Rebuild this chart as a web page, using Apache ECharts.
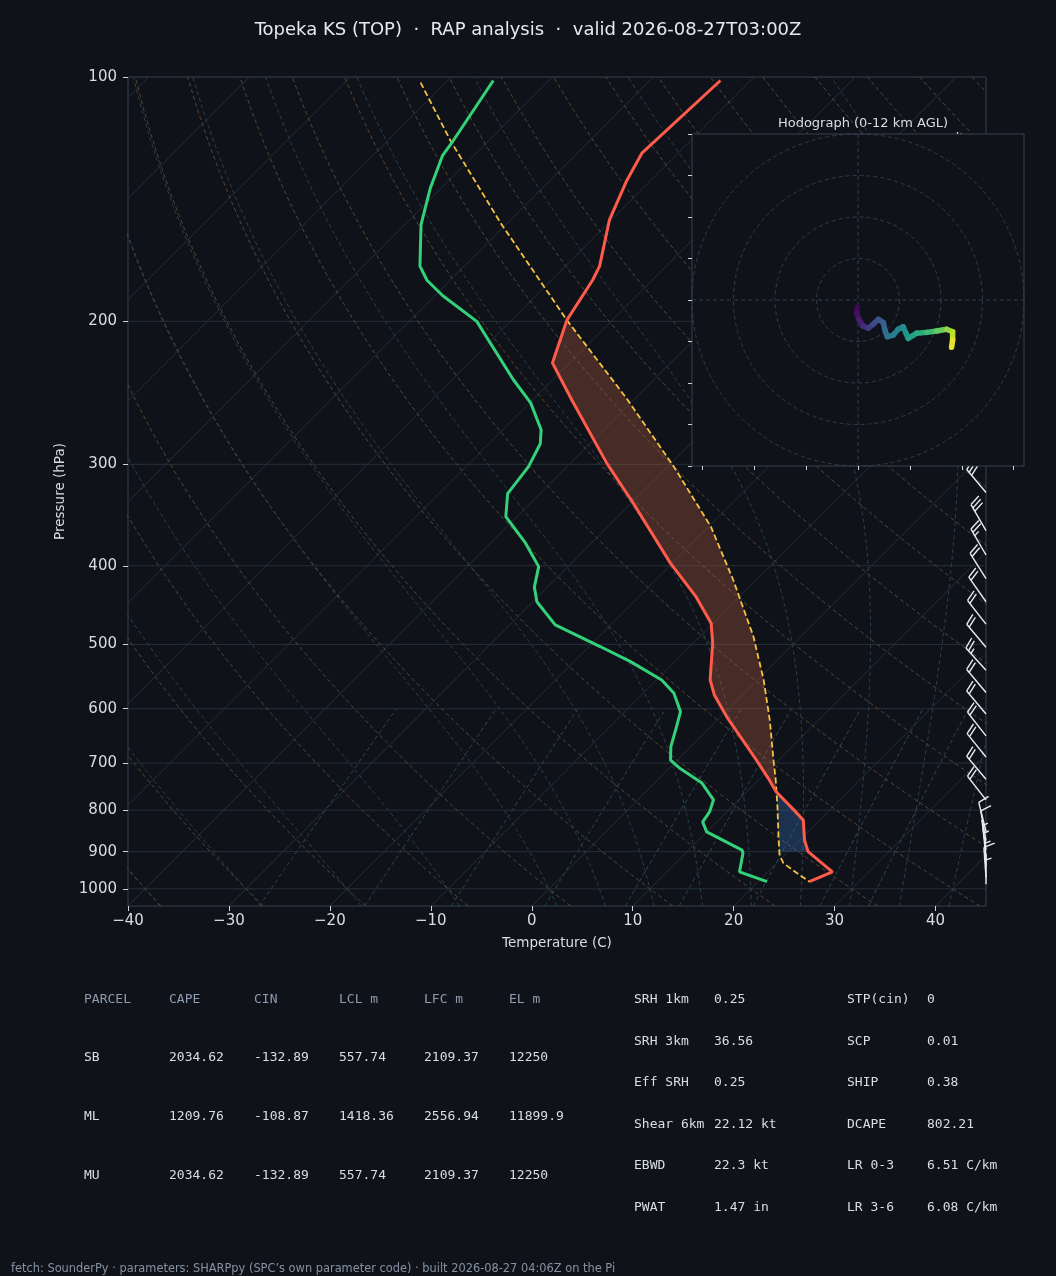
<!DOCTYPE html>
<html>
<head>
<meta charset="utf-8">
<script src="https://cdn.jsdelivr.net/npm/echarts@6/dist/echarts.min.js"></script>
<style>
html, body { margin: 0; padding: 0; background: #0f1319; }
#chart { width: 1056px; height: 1276px; }
</style>
</head>
<body>
<div id="chart"></div>
<script>
// ---- sounding (hPa / deg C) ----
var tempP = [101, 124, 134, 150, 171, 178, 199.3, 225, 250, 299, 335, 397, 437, 471, 498, 553, 577, 614, 694, 731, 759.3, 800, 823, 871, 900, 953, 980];
var tempC = [-63.0, -63.6, -62.4, -60.2, -56.6, -55.9, -54.5, -51.7, -46.1, -36.4, -29.8, -20.2, -14.3, -10.2, -8.1, -4.7, -2.8, 0.6, 7.8, 10.8, 12.9, 16.5, 18.4, 20.5, 22.0, 26.4, 25.1];

var dewP = [101, 120, 125, 137, 152, 171, 178, 186, 200, 212, 236, 252, 272, 283, 302, 326, 348, 374, 401, 425, 443, 473, 503, 525, 553, 574, 605, 634, 668, 694, 711, 741, 777, 804, 827, 851, 896, 904, 953, 980];
var dewC = [-85.5, -83.5, -83.1, -81.1, -78.4, -74.4, -72.3, -69.2, -63.3, -60.0, -53.9, -49.9, -46.2, -44.9, -43.8, -43.2, -41.1, -36.7, -32.9, -31.3, -29.6, -25.5, -18.9, -14.4, -9.5, -7.0, -4.5, -3.3, -2.0, -0.7, 1.1, 4.7, 7.5, 8.3, 8.6, 10.0, 15.3, 15.7, 17.2, 20.9];

var parcelP = [101.6, 120, 151.5, 199.3, 249, 302, 358, 416.5, 489, 553, 620, 694, 734.5, 792, 863, 908.6, 930, 962, 980];
var parcelC = [-92.5, -83.7, -70.6, -54.5, -40.8, -29.4, -19.8, -12.3, -4.7, 0.6, 5.2, 9.5, 11.7, 14.5, 17.6, 19.5, 20.7, 23.5, 25.1];

// shaded layers (hPa)
var elP = 199.3, lfcP = 759.3, cinBaseP = 900;

// wind barbs
var barbP = [987, 968, 941, 915, 895, 872, 850, 777, 733, 688, 648, 609, 573, 538, 504, 472, 443, 415, 388, 362, 325, 290, 262, 236, 212, 190, 170, 152, 137, 124];
var barbKt = [5, 10, 5, 5, 5, 10, 10, 20, 20, 20, 20, 20, 20, 25, 20, 20, 20, 20, 25, 30, 30, 30, 35, 35, 40, 40, 40, 45, 45, 45];
var barbDir = [0, 356, 358, 354, 352, 350, 346, 322, 320, 321, 322, 320, 320, 318, 320, 322, 325, 328, 330, 330, 320, 315, 310, 305, 300, 298, 295, 292, 290, 288];

// hodograph (kt) and height (km AGL)
var hodoU = [-0.3, -0.6, 0.6, 2.3, 5.0, 7.4, 9.8, 12.2, 13.0, 14.1, 17.0, 19.4, 21.8, 23.1, 24.2, 28.3, 33.1, 37.9, 42.7, 45.6, 45.6, 45.1];
var hodoV = [-3.5, -6.4, -9.6, -12.5, -13.6, -11.6, -9.3, -10.9, -14.5, -17.7, -16.9, -14.1, -12.9, -16.0, -18.5, -16.0, -15.6, -14.9, -14.1, -15.3, -19.3, -22.8];
var hodoZ = [0, 0.4, 0.8, 1.2, 1.8, 2.4, 3.0, 3.5, 3.9, 4.4, 4.9, 5.3, 5.7, 6.1, 6.5, 7.0, 7.8, 8.7, 9.6, 10.4, 11.2, 12.0];
var hodoRings = [20, 40, 60, 80];

// ticks
var pressureTicks = [100, 200, 300, 400, 500, 600, 700, 800, 900, 1000];
var tempTicks = [-40, -30, -20, -10, 0, 10, 20, 30, 40];
var hodoTicksX = [-75, -50, -25, 0, 25, 50, 75];
var mixRatios = [0.0004, 0.001, 0.002, 0.004, 0.007, 0.01, 0.016, 0.024, 0.032];

// parameter tables
var parcelHead = ['PARCEL', 'CAPE', 'CIN', 'LCL m', 'LFC m', 'EL m'];
var parcelRows = [
    ['SB', '2034.62', '-132.89', '557.74', '2109.37', '12250'],
    ['ML', '1209.76', '-108.87', '1418.36', '2556.94', '11899.9'],
    ['MU', '2034.62', '-132.89', '557.74', '2109.37', '12250']
];
var paramLeft = [['SRH 1km', '0.25'], ['SRH 3km', '36.56'], ['Eff SRH', '0.25'], ['Shear 6km', '22.12 kt'], ['EBWD', '22.3 kt'], ['PWAT', '1.47 in']];
var paramRight = [['STP(cin)', '0'], ['SCP', '0.01'], ['SHIP', '0.38'], ['DCAPE', '802.21'], ['LR 0-3', '6.51 C/km'], ['LR 3-6', '6.08 C/km']];

// ---- skew-T transform ----
var PBOT = 1050, PTOP = 100;
var LMAX = Math.log(PBOT / PTOP);
var SKEW = 34.89;
function ly(p) { return Math.log(PBOT / p); }
function sx(t, p) { return t + SKEW * ly(p); }
function toXY(ps, cs) {
    return ps.map(function (p, i) { return [sx(cs[i], p), ly(p)]; });
}
var GAP = ['-', '-'];

// reference lines of the diagram
var gridData = [];
pressureTicks.forEach(function (p) { gridData.push([-40, ly(p)], [45, ly(p)], GAP); });
for (var ti = -130; ti <= 40; ti += 10) { gridData.push([ti, 0], [ti + SKEW * LMAX, LMAX], GAP); }

var dryData = [];
for (var t0 = -40; t0 <= 240; t0 += 10) {
    for (var p = PBOT; p >= PTOP; p -= 10) {
        var tk = (t0 + 273.15) * Math.pow(p / 1000, 0.28571);
        dryData.push([sx(tk - 273.15, p), ly(p)]);
    }
    dryData.push(GAP);
}

function satMix(p, tK) {
    var tc = tK - 273.15;
    var es = 6.112 * Math.exp(17.67 * tc / (tc + 243.5));
    return 0.62195 * es / (p - es);
}
function moistSlope(p, tK) {
    var rs = satMix(p, tK);
    var num = 287.04749 * tK + 2.50084e6 * rs;
    var den = 1004.6662 + 2.50084e6 * 2.50084e6 * rs * 0.62195 / (287.04749 * tK * tK);
    return num / den / p;
}
function moistRun(t0, pEnd, h) {
    var out = [], p = 1000, t = t0 + 273.15;
    out.push([p, t]);
    while ((h < 0 && p > pEnd) || (h > 0 && p < pEnd)) {
        var k1 = moistSlope(p, t);
        var k2 = moistSlope(p + h / 2, t + h / 2 * k1);
        var k3 = moistSlope(p + h / 2, t + h / 2 * k2);
        var k4 = moistSlope(p + h, t + h * k3);
        t += h / 6 * (k1 + 2 * k2 + 2 * k3 + k4);
        p += h;
        out.push([p, t]);
    }
    return out;
}
var moistStarts = [-40, -30, -20, -10, 0, 5, 10, 15, 20, 25, 30, 35, 40, 45];
var moistData = [];
moistStarts.forEach(function (t0) {
    var pts = moistRun(t0, PBOT, 5).reverse().concat(moistRun(t0, PTOP, -5).slice(1));
    pts.forEach(function (q) { moistData.push([sx(q[1] - 273.15, q[0]), ly(q[0])]); });
    moistData.push(GAP);
});

var mixData = [];
mixRatios.forEach(function (w) {
    for (var p = PBOT; p >= 600; p -= 10) {
        var e = p * w / (0.62195 + w);
        var a = Math.log(e / 6.112);
        var td = 243.5 * a / (17.67 - a);
        mixData.push([sx(td, p), ly(p)]);
    }
    mixData.push(GAP);
});

// shaded areas between parcel and environment
function interpC(ps, cs, p) {
    for (var i = 0; i < ps.length - 1; i++) {
        if ((p - ps[i]) * (p - ps[i + 1]) <= 0) {
            var f = Math.log(p / ps[i]) / Math.log(ps[i + 1] / ps[i]);
            return cs[i] + f * (cs[i + 1] - cs[i]);
        }
    }
    return NaN;
}
function band(pTop, pBot) {
    var pts = [[sx(interpC(parcelP, parcelC, pBot), pBot), ly(pBot)]];
    for (var i = parcelP.length - 1; i >= 0; i--) {
        if (parcelP[i] > pTop && parcelP[i] < pBot) pts.push([sx(parcelC[i], parcelP[i]), ly(parcelP[i])]);
    }
    pts.push([sx(interpC(parcelP, parcelC, pTop), pTop), ly(pTop)]);
    pts.push([sx(interpC(tempP, tempC, pTop), pTop), ly(pTop)]);
    for (var j = 0; j < tempP.length; j++) {
        if (tempP[j] > pTop && tempP[j] < pBot) pts.push([sx(tempC[j], tempP[j]), ly(tempP[j])]);
    }
    pts.push([sx(interpC(tempP, tempC, pBot), pBot), ly(pBot)]);
    return pts;
}
var capeArea = band(elP, lfcP);
var cinArea = band(lfcP, cinBaseP);

var barbData = barbP.map(function (p, i) { return [45, ly(p), barbKt[i], barbDir[i]]; });

var hodoSegs = [];
for (var k = 0; k < hodoU.length - 1; k++) {
    hodoSegs.push([hodoU[k], hodoV[k], hodoU[k + 1], hodoV[k + 1], (hodoZ[k] + hodoZ[k + 1]) / 2]);
}

// ---- chart ----
var chart = echarts.init(document.getElementById('chart'));
var txt = '#d9dee5';
var bg = '#0f1319';

function barbItem(params, api) {
    var base = api.coord([api.value(0), api.value(1)]);
    var spd = Math.round(api.value(2) / 5) * 5;
    var d = api.value(3) * Math.PI / 180;
    var len = 30, height = 11, width = 7, spacing = 3.8;
    var s = [Math.sin(d), -Math.cos(d)];
    var n = [Math.cos(d), Math.sin(d)];
    function at(off, h) { return [base[0] + s[0] * off + n[0] * h, base[1] + s[1] * off + n[1] * h]; }
    var style = { stroke: '#e8ecf1', lineWidth: 1.4 };
    var tip = at(len, 0);
    var kids = [{ type: 'line', shape: { x1: base[0], y1: base[1], x2: tip[0], y2: tip[1] }, style: style }];
    var full = Math.floor(spd / 10), half = (spd % 10) >= 5;
    var off = len;
    for (var i = 0; i < full; i++) {
        var a = at(off, 0), b = at(off + width / 2, height);
        kids.push({ type: 'line', shape: { x1: a[0], y1: a[1], x2: b[0], y2: b[1] }, style: style });
        off -= spacing;
    }
    if (half) {
        if (full === 0) off -= 1.5 * spacing;
        var a2 = at(off, 0), b2 = at(off + width / 4, height / 2);
        kids.push({ type: 'line', shape: { x1: a2[0], y1: a2[1], x2: b2[0], y2: b2[1] }, style: style });
    }
    return { type: 'group', children: kids };
}

function polyItem(pts, color) {
    return function (params, api) {
        return {
            type: 'polygon',
            shape: { points: pts.map(function (q) { return api.coord(q); }) },
            style: { fill: color }
        };
    };
}

var tickStyle = { color: '#cfd5dd' };

var option = {
    backgroundColor: bg,
    animation: false,
    textStyle: { fontFamily: 'DejaVu Sans' },
    title: [
        {
            text: 'Topeka KS (TOP)  \u00b7  RAP analysis  \u00b7  valid 2026-08-27T03:00Z',
            left: 'center', top: 16,
            textStyle: { color: '#e6eaef', fontSize: 18, fontWeight: 'normal', fontFamily: 'DejaVu Sans' }
        },
        {
            text: 'Hodograph (0-12 km AGL)',
            left: 858, top: 112, textAlign: 'center',
            textStyle: { color: txt, fontSize: 13, fontWeight: 'normal', fontFamily: 'DejaVu Sans' }
        }
    ],
    grid: [
        { left: 128, top: 77, width: 858, height: 829, show: true, borderColor: '#37414e', borderWidth: 1, backgroundColor: 'transparent' },
        { left: 692, top: 134, width: 332, height: 332, show: true, borderColor: '#37414e', borderWidth: 1, backgroundColor: 'transparent', z: 20 }
    ],
    xAxis: [
        {
            gridIndex: 0, type: 'value', min: -40, max: 45,
            name: 'Temperature (C)', nameLocation: 'middle', nameGap: 30,
            nameTextStyle: { color: txt, fontSize: 13.5 },
            axisLine: { show: false, onZero: false },
            axisTick: { show: true, customValues: tempTicks, length: 5, lineStyle: tickStyle },
            axisLabel: {
                customValues: tempTicks, color: txt, fontSize: 15, margin: 8,
                formatter: function (v) { return v < 0 ? '\u2212' + (-v) : String(v); }
            },
            splitLine: { show: false }
        },
        {
            gridIndex: 1, type: 'value', min: -80, max: 80, z: 20,
            axisLine: { show: false, onZero: false },
            axisTick: { show: true, customValues: hodoTicksX, length: 4, lineStyle: tickStyle },
            axisLabel: { show: false },
            splitLine: { show: false }
        }
    ],
    yAxis: [
        {
            gridIndex: 0, type: 'value', min: 0, max: LMAX,
            name: 'Pressure (hPa)', nameLocation: 'middle', nameGap: 58, nameRotate: 90,
            nameTextStyle: { color: txt, fontSize: 13.5 },
            axisLine: { show: false, onZero: false },
            axisTick: { show: true, customValues: pressureTicks.map(ly), length: 5, lineStyle: tickStyle },
            axisLabel: {
                customValues: pressureTicks.map(ly), color: txt, fontSize: 15, margin: 11,
                formatter: function (v) { return String(Math.round(PBOT * Math.exp(-v))); }
            },
            splitLine: { show: false }
        },
        {
            gridIndex: 1, type: 'value', min: -80, max: 80, interval: 20, z: 20,
            axisLine: { show: false, onZero: false },
            axisTick: { show: true, length: 4, lineStyle: tickStyle },
            axisLabel: { show: false },
            splitLine: { show: false }
        }
    ],
    visualMap: [{
        type: 'continuous', show: false, seriesIndex: 11, dimension: 4, min: 0, max: 12,
        inRange: { color: ['#440154', '#482878', '#3e4989', '#31688e', '#26828e', '#1f9e89', '#35b779', '#6ece58', '#b5de2b', '#fde725'] }
    }],
    series: [
        { type: 'line', data: gridData, symbol: 'none', silent: true, z: 1, lineStyle: { color: '#262f3a', width: 1 } },
        { type: 'line', data: dryData, symbol: 'none', silent: true, z: 1, lineStyle: { color: '#5a4631', width: 1, type: [4, 3] } },
        { type: 'line', data: moistData, symbol: 'none', silent: true, z: 1, lineStyle: { color: '#2a4150', width: 1, type: [4, 3] } },
        { type: 'line', data: mixData, symbol: 'none', silent: true, z: 1, lineStyle: { color: '#2b4954', width: 1, type: [4, 3] } },
        {
            type: 'custom', data: [[0, 0]], silent: true, z: 2,
            renderItem: function (params, api) {
                return {
                    type: 'group', children: [
                        polyItem(capeArea, 'rgba(200,100,70,0.3)')(params, api),
                        polyItem(cinArea, 'rgba(60,120,200,0.3)')(params, api)
                    ]
                };
            }
        },
        { type: 'line', name: 'Parcel', data: toXY(parcelP, parcelC), symbol: 'none', z: 3, lineStyle: { color: '#f5c242', width: 1.8, type: [6, 3] } },
        { type: 'line', name: 'Dewpoint', data: toXY(dewP, dewC), symbol: 'none', z: 4, lineStyle: { color: '#33d17a', width: 3 } },
        { type: 'line', name: 'Temperature', data: toXY(tempP, tempC), symbol: 'none', z: 4, lineStyle: { color: '#ff5b4b', width: 3 } },
        { type: 'custom', name: 'Wind', data: barbData, z: 5, silent: true, renderItem: barbItem },
        {
            type: 'custom', xAxisIndex: 1, yAxisIndex: 1, data: [[0, 0]], z: 10, silent: true,
            renderItem: function (params, api) {
                var a = api.coord([-80, 80]), b = api.coord([80, -80]);
                var l = api.coord([-80, 0]), r = api.coord([80, 0]);
                var t = api.coord([0, 80]), d = api.coord([0, -80]);
                var dash = { stroke: '#313c49', lineWidth: 1, lineDash: [4, 3] };
                return {
                    type: 'group', children: [
                        { type: 'rect', shape: { x: a[0], y: a[1], width: b[0] - a[0], height: b[1] - a[1] }, style: { fill: bg } },
                        { type: 'line', shape: { x1: l[0], y1: l[1], x2: r[0], y2: r[1] }, style: dash },
                        { type: 'line', shape: { x1: t[0], y1: t[1], x2: d[0], y2: d[1] }, style: dash }
                    ]
                };
            }
        },
        {
            type: 'custom', xAxisIndex: 1, yAxisIndex: 1, data: hodoRings.map(function (r) { return [0, 0, r]; }), z: 11, silent: true,
            renderItem: function (params, api) {
                var c = api.coord([0, 0]);
                var rad = api.size([api.value(2), 0])[0];
                return { type: 'circle', shape: { cx: c[0], cy: c[1], r: rad }, style: { fill: 'none', stroke: '#313c49', lineWidth: 1, lineDash: [4, 3] } };
            }
        },
        {
            type: 'custom', xAxisIndex: 1, yAxisIndex: 1, data: hodoSegs, z: 12, silent: true,
            encode: { x: [0, 2], y: [1, 3] },
            renderItem: function (params, api) {
                var p1 = api.coord([api.value(0), api.value(1)]);
                var p2 = api.coord([api.value(2), api.value(3)]);
                return {
                    type: 'line', shape: { x1: p1[0], y1: p1[1], x2: p2[0], y2: p2[1] },
                    style: { stroke: api.visual('color'), lineWidth: 5.5, lineCap: 'round' }
                };
            }
        }
    ],
    graphic: []
};

// tables
var mono = '13px "DejaVu Sans Mono"';
var headCol = '#8d9cb0';
var colX = [84, 169, 254, 339, 424, 509];
var rowY = [1000, 1058, 1117, 1176];
parcelHead.forEach(function (h, i) {
    option.graphic.push({ type: 'text', x: colX[i], y: rowY[0], style: { text: h, fill: headCol, font: mono, verticalAlign: 'middle' } });
});
parcelRows.forEach(function (row, r) {
    row.forEach(function (v, i) {
        option.graphic.push({ type: 'text', x: colX[i], y: rowY[r + 1], style: { text: v, fill: txt, font: mono, verticalAlign: 'middle' } });
    });
});
var pRowY = [1000, 1041.5, 1083, 1124.5, 1166, 1207.5];
[[paramLeft, 634, 714], [paramRight, 847, 927]].forEach(function (blk) {
    blk[0].forEach(function (row, r) {
        option.graphic.push({ type: 'text', x: blk[1], y: pRowY[r], style: { text: row[0], fill: txt, font: mono, verticalAlign: 'middle' } });
        option.graphic.push({ type: 'text', x: blk[2], y: pRowY[r], style: { text: row[1], fill: txt, font: mono, verticalAlign: 'middle' } });
    });
});
option.graphic.push({
    type: 'text', x: 11, y: 1269,
    style: {
        text: 'fetch: SounderPy \u00b7 parameters: SHARPpy (SPC\u2019s own parameter code) \u00b7 built 2026-08-27 04:06Z on the Pi',
        fill: '#8592a3', font: '11.4px "DejaVu Sans"', verticalAlign: 'middle'
    }
});

chart.setOption(option);
</script>
</body>
</html>
